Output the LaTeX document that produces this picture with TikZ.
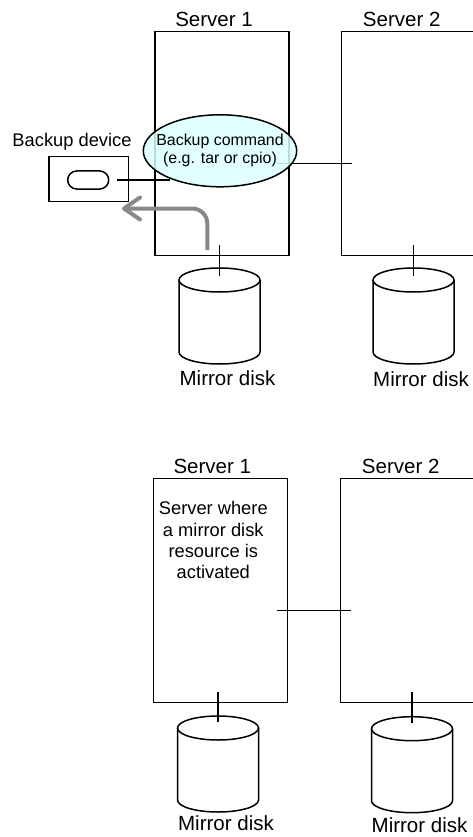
\documentclass[tikz,border=0pt]{standalone}
\usepackage{fontspec}
\setmainfont{Liberation Sans}
\usetikzlibrary{arrows.meta, calc, shapes.geometric, positioning}

\definecolor{cmdfill}{HTML}{DDFFFF}
\definecolor{arrowgray}{HTML}{888888}

% mirror disk: name, x, y of the top ellipse
\newcommand\mirrordisk[3]{%
  \draw[link, fill=white] (#2-40.5,#3) -- (#2-40.5,#3+72)
    arc[start angle=180, end angle=360, x radius=40.5pt, y radius=12pt] -- (#2+40.5,#3);
  \draw[link] (#2,#3) ellipse[x radius=40.5pt, y radius=12pt];
  \coordinate (#1) at (#2,#3);
}

\begin{document}
\begin{tikzpicture}[x=1pt, y=-1pt,
  link/.style={line width=1.5pt},
  srv/.style={draw, link, inner sep=0pt, minimum width=134pt, minimum height=224pt},
  srvlabel/.style={font=\fontsize{20.5}{24}\selectfont, inner sep=0pt},
  devlabel/.style={font=\fontsize{18.3}{21.3}\selectfont, inner sep=0pt, align=center}]
\useasboundingbox (0,0) rectangle (473,837);
\clip (0,0) rectangle (473,837);

% upper part
\node[srv] (s1t) at (222,143.7) {};
\node[srv] (s2t) at (408.7,143.7) {};
\node[srvlabel, above=4pt of s1t, xshift=-8pt] {Server 1};
\node[srvlabel, above=4pt of s2t, xshift=-7pt] {Server 2};

\node[draw, link, minimum width=79.7pt, minimum height=45pt] (dev) at (88.8,179.2) {};
\node[draw, link, rounded corners=9pt, inner sep=0pt, minimum width=41pt, minimum height=18pt] (slot) at (88.2,180) {};
\node[devlabel] at (72,142) {Backup device};

\coordinate (cmdc) at (220,150.8);
\draw[link] ($(cmdc)+(57,12.5)$) -- ($(cmdc -| s2t.west)+(11,12.5)$);
\draw[link] ($(slot.east)+(8,0)$) -- ($(slot.east -| s1t.west)+(15.7,0)$);
\node[ellipse, draw, link, fill=cmdfill, fill opacity=0.85,
  inner sep=0pt, minimum width=153.4pt, minimum height=72pt] (cmd) at (cmdc) {};
\node[align=center, inner sep=0pt, font=\fontsize{15.9}{18}\selectfont] (cmdtext) at (cmd) {Backup command\\(e.g. tar or cpio)};

\coordinate (bk) at (122,208.5);
\draw[arrowgray, line width=4pt, rounded corners=15pt,
  -{Straight Barb[length=16pt, width=22pt, round]}] (207.3,250) -- (207.3,208.5) -- (bk);

\mirrordisk{d1}{219.5}{280}
\mirrordisk{d2}{413.5}{280}
\draw[link] (d1 |- s1t.south) ++(0,-11) -- ($(d1)+(0,-4)$);
\draw[link] (d2 |- s2t.south) ++(0,-11) -- ($(d2)+(0,-4)$);
\node[srvlabel] at ($(d1)+(8,97.7)$) {Mirror disk};
\node[srvlabel] at ($(d2)+(7.5,99)$) {Mirror disk};

% lower part
\node[srv] (s1b) at (220.3,590.3) {};
\node[srv] (s2b) at (407.7,590.3) {};
\node[srvlabel, above=4pt of s1b, xshift=-8pt] {Server 1};
\node[srvlabel, above=4pt of s2b, xshift=-7pt] {Server 2};
\node[devlabel] at (213.3,540.3) {Server where\\a mirror disk\\resource is\\activated};
\draw[link] ($(s1b.east)+(-11.3,20.4)$) -- ($(s2b.west)+(11,20.4)$);

\mirrordisk{d3}{218}{728}
\mirrordisk{d4}{412}{728.7}
\draw[link] (d3 |- s1b.south) ++(0,-11) -- ($(d3)+(0,-6)$);
\draw[link] (d4 |- s2b.south) ++(0,-11) -- ($(d4)+(0,-6)$);
\node[srvlabel] at ($(d3)+(8,95.3)$) {Mirror disk};
\node[srvlabel] at ($(d4)+(7.5,96.3)$) {Mirror disk};
\end{tikzpicture}
\end{document}
